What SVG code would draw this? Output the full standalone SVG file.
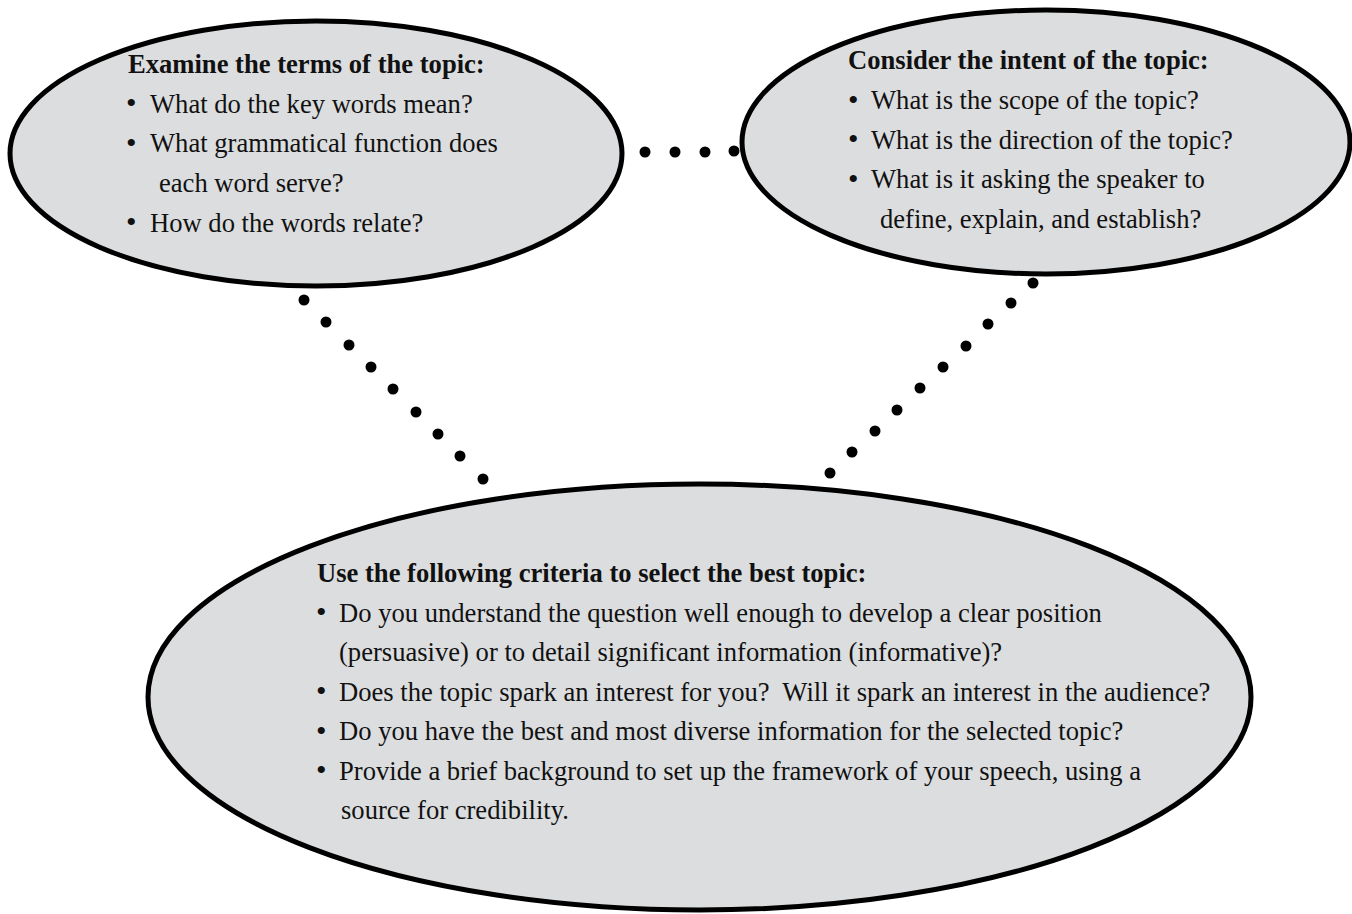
<svg xmlns="http://www.w3.org/2000/svg" width="1352" height="914" viewBox="0 0 1352 914">
<style>
.bub{fill:#dcdddf;stroke:#000;stroke-width:5}
.t{font-family:"Liberation Serif","Times New Roman",serif;font-size:26.6px;fill:#111}
.b{font-family:"Liberation Serif","Times New Roman",serif;font-size:30px;fill:#111}
.h{font-weight:bold}
.dot{fill:#000}
</style>
<rect width="1352" height="914" fill="#fff"/>
<g id="connectors">
<circle class="dot" cx="645" cy="152" r="5.5"/>
<circle class="dot" cx="675" cy="152" r="5.5"/>
<circle class="dot" cx="705" cy="152" r="5.5"/>
<circle class="dot" cx="734" cy="151" r="5.5"/>
<circle class="dot" cx="304" cy="300" r="5.5"/>
<circle class="dot" cx="326" cy="322" r="5.5"/>
<circle class="dot" cx="349" cy="345" r="5.5"/>
<circle class="dot" cx="371" cy="367" r="5.5"/>
<circle class="dot" cx="393" cy="389" r="5.5"/>
<circle class="dot" cx="416" cy="412" r="5.5"/>
<circle class="dot" cx="438" cy="434" r="5.5"/>
<circle class="dot" cx="460" cy="456" r="5.5"/>
<circle class="dot" cx="483" cy="479" r="5.5"/>
<circle class="dot" cx="1033" cy="283" r="5.5"/>
<circle class="dot" cx="1011" cy="303" r="5.5"/>
<circle class="dot" cx="988" cy="324" r="5.5"/>
<circle class="dot" cx="966" cy="346" r="5.5"/>
<circle class="dot" cx="943" cy="367" r="5.5"/>
<circle class="dot" cx="920" cy="388" r="5.5"/>
<circle class="dot" cx="897" cy="410" r="5.5"/>
<circle class="dot" cx="875" cy="431" r="5.5"/>
<circle class="dot" cx="852" cy="452" r="5.5"/>
<circle class="dot" cx="830" cy="473" r="5.5"/>
</g>
<g id="terms">
<ellipse class="bub" cx="316" cy="153.5" rx="306" ry="132.5"/>
<text class="t h" x="128" y="73">Examine the terms of the topic:</text>
<text class="b" x="126" y="113">•</text><text class="t" x="150" y="112.5">What do the key words mean?</text>
<text class="b" x="126" y="152.5">•</text><text class="t" x="150" y="152">What grammatical function does</text>
<text class="t" x="159" y="191.5">each word serve?</text>
<text class="b" x="126" y="232">•</text><text class="t" x="150" y="231.5">How do the words relate?</text>
</g>
<g id="intent">
<ellipse class="bub" cx="1046" cy="142" rx="304" ry="132"/>
<text class="t h" x="848" y="69">Consider the intent of the topic:</text>
<text class="b" x="848" y="109.5">•</text><text class="t" x="871" y="109">What is the scope of the topic?</text>
<text class="b" x="848" y="149">•</text><text class="t" x="871" y="148.5">What is the direction of the topic?</text>
<text class="b" x="848" y="188.5">•</text><text class="t" x="871" y="188">What is it asking the speaker to</text>
<text class="t" x="880" y="227.5">define, explain, and establish?</text>
</g>
<g id="criteria">
<ellipse class="bub" cx="699.5" cy="697" rx="551.5" ry="213"/>
<text class="t h" x="317" y="582">Use the following criteria to select the best topic:</text>
<text class="b" x="316" y="622">•</text><text class="t" x="339" y="621.5">Do you understand the question well enough to develop a clear position</text>
<text class="t" x="339" y="661">(persuasive) or to detail significant information (informative)?</text>
<text class="b" x="316" y="701">•</text><text class="t" x="339" y="700.5">Does the topic spark an interest for you?&#160; Will it spark an interest in the audience?</text>
<text class="b" x="316" y="740.5">•</text><text class="t" x="339" y="740">Do you have the best and most diverse information for the selected topic?</text>
<text class="b" x="316" y="780">•</text><text class="t" x="339" y="779.5">Provide a brief background to set up the framework of your speech, using a</text>
<text class="t" x="341" y="819">source for credibility.</text>
</g>
</svg>
